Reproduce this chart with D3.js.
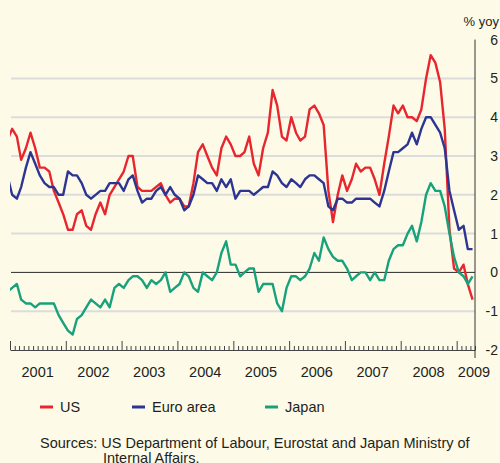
<!DOCTYPE html>
<html>
<head>
<meta charset="utf-8">
<script src="https://cdn.jsdelivr.net/npm/d3@7"></script>
<style>
  body { margin: 0; background: #fdfae8; }
  svg { display: block; font-family: "Liberation Sans", Arial, sans-serif; }
</style>
</head>
<body>
<div class="canvas"></div>
<script>
/* ----------- DATA ----------- */
// monthly, Dec 2000 .. Apr 2009 (first point is clipped by the plot edge)
const firstMonth = new Date(2000, 11, 15);
const seriesNames = ['US', 'Euro area', 'Japan'];
const seriesColors = ['#e8262d', '#2d3592', '#17a27c'];

const us = [3.4,
  3.7, 3.5, 2.9, 3.2, 3.6, 3.2, 2.7, 2.7, 2.6, 2.1, 1.8, 1.5,
  1.1, 1.1, 1.5, 1.6, 1.2, 1.1, 1.5, 1.8, 1.5, 2.0, 2.2, 2.4,
  2.6, 3.0, 3.0, 2.2, 2.1, 2.1, 2.1, 2.2, 2.3, 2.0, 1.8, 1.9,
  1.9, 1.7, 1.7, 2.3, 3.1, 3.3, 3.0, 2.7, 2.5, 3.2, 3.5, 3.3,
  3.0, 3.0, 3.1, 3.5, 2.8, 2.5, 3.2, 3.6, 4.7, 4.3, 3.5, 3.4,
  4.0, 3.6, 3.4, 3.5, 4.2, 4.3, 4.1, 3.8, 2.1, 1.3, 2.0, 2.5,
  2.1, 2.4, 2.8, 2.6, 2.7, 2.7, 2.4, 2.0, 2.8, 3.5, 4.3, 4.1,
  4.3, 4.0, 4.0, 3.9, 4.2, 5.0, 5.6, 5.4, 4.9, 3.7, 1.1, 0.1,
  0.0, 0.2, -0.3, -0.7];

const euro = [2.5,
  2.0, 1.9, 2.2, 2.7, 3.1, 2.8, 2.5, 2.3, 2.2, 2.2, 2.0, 2.0,
  2.6, 2.5, 2.5, 2.3, 2.0, 1.9, 2.0, 2.1, 2.1, 2.3, 2.3, 2.3,
  2.1, 2.4, 2.5, 2.1, 1.8, 1.9, 1.9, 2.1, 2.2, 2.0, 2.2, 2.0,
  1.9, 1.6, 1.7, 2.0, 2.5, 2.4, 2.3, 2.3, 2.1, 2.4, 2.2, 2.4,
  1.9, 2.1, 2.1, 2.1, 2.0, 2.1, 2.2, 2.2, 2.6, 2.5, 2.3, 2.2,
  2.4, 2.3, 2.2, 2.4, 2.5, 2.5, 2.4, 2.3, 1.7, 1.6, 1.9, 1.9,
  1.8, 1.8, 1.9, 1.9, 1.9, 1.9, 1.8, 1.7, 2.1, 2.6, 3.1, 3.1,
  3.2, 3.3, 3.6, 3.3, 3.7, 4.0, 4.0, 3.8, 3.6, 3.2, 2.1, 1.6,
  1.1, 1.2, 0.6, 0.6];

const japan = [-0.5,
  -0.4, -0.3, -0.7, -0.8, -0.8, -0.9, -0.8, -0.8, -0.8, -0.8, -1.1, -1.3,
  -1.5, -1.6, -1.2, -1.1, -0.9, -0.7, -0.8, -0.9, -0.7, -0.9, -0.4, -0.3,
  -0.4, -0.2, -0.1, -0.1, -0.2, -0.4, -0.2, -0.3, -0.2, 0.0, -0.5, -0.4,
  -0.3, 0.0, -0.1, -0.4, -0.5, 0.0, -0.1, -0.2, 0.0, 0.5, 0.8, 0.2,
  0.2, -0.1, 0.0, 0.1, 0.1, -0.5, -0.3, -0.3, -0.3, -0.8, -1.0, -0.4,
  -0.1, -0.1, -0.2, -0.1, 0.1, 0.5, 0.3, 0.9, 0.6, 0.4, 0.3, 0.3,
  0.1, -0.2, -0.1, 0.0, 0.0, -0.2, 0.0, -0.2, -0.2, 0.3, 0.6, 0.7,
  0.7, 1.0, 1.2, 0.8, 1.3, 2.0, 2.3, 2.1, 2.1, 1.7, 1.0, 0.4,
  0.0, -0.1, -0.3, -0.1];

const yearLabels = ['2001', '2002', '2003', '2004', '2005', '2006', '2007', '2008', '2009'];
const yTicks = [-2, -1, 0, 1, 2, 3, 4, 5, 6];

/* ----------- CONTAINER ----------- */
const svg = d3.select('.canvas')
    .append('svg')
    .attr('width', 500)
    .attr('height', 463);

const plotLeft = 10, plotRight = 475, plotTop = 39.6, plotBottom = 350;

/* ----------- SCALES ----------- */
const x = d3.scaleTime()
    .domain([new Date(2001, 0, 1), new Date(2009, 4, 1)])
    .range([plotLeft, plotRight]);

const y = d3.scaleLinear()
    .domain([-2, 6])
    .range([plotBottom, plotTop]);

const textColor = '#231f20';

// gridlines
svg.append('g')
    .selectAll('line')
    .data(yTicks.filter(d => d > -2 && d < 6 && d !== 0))
    .enter().append('line')
    .attr('x1', plotLeft + 1).attr('x2', plotRight)
    .attr('y1', d => y(d)).attr('y2', d => y(d))
    .attr('stroke', '#dcdcdc')
    .attr('stroke-width', 2);

// zero line
svg.append('line')
    .attr('x1', plotLeft + 1).attr('x2', plotRight)
    .attr('y1', y(0)).attr('y2', y(0))
    .attr('stroke', '#2a2a2a')
    .attr('stroke-width', 1);

/* ----------- LINES ----------- */
svg.append('clipPath').attr('id', 'plot')
    .append('rect')
    .attr('x', plotLeft).attr('y', 0)
    .attr('width', plotRight - plotLeft).attr('height', plotBottom);

const months = us.map((d, i) => d3.timeMonth.offset(firstMonth, i));

const line = d3.line()
    .x((d, i) => x(months[i]))
    .y(d => y(d));

[us, euro, japan].forEach((vals, k) => {
    svg.append('path')
        .datum(vals)
        .attr('clip-path', 'url(#plot)')
        .attr('fill', 'none')
        .attr('stroke', seriesColors[k])
        .attr('stroke-width', 2.4)
        .attr('stroke-linejoin', 'round')
        .attr('d', line);
});

/* ----------- AXES ----------- */
// month ticks, pointing up from the baseline
const xAxisGroup = svg.append('g')
    .attr('transform', `translate(0,${plotBottom})`);
xAxisGroup.call(d3.axisTop(x)
    .ticks(d3.timeMonth.every(1))
    .tickSize(4)
    .tickSizeOuter(0)
    .tickFormat(''));
xAxisGroup.selectAll('.tick line')
    .attr('y2', d => d.getMonth() === 0 ? -9 : -4);
xAxisGroup.selectAll('line, path')
    .attr('stroke', '#444')
    .attr('stroke-width', 1);

// year labels, centred in each year
svg.append('g')
    .selectAll('text')
    .data(yearLabels)
    .enter().append('text')
    .attr('x', d => Math.min(x(new Date(+d, 6, 1)), 474))
    .attr('y', 377)
    .attr('text-anchor', 'middle')
    .attr('font-size', 14.5)
    .attr('fill', textColor)
    .text(d => d);

// right axis
const yAxisGroup = svg.append('g')
    .attr('transform', `translate(${plotRight},0)`);
yAxisGroup.call(d3.axisRight(y)
    .tickValues(yTicks)
    .tickSize(0)
    .tickSizeOuter(0)
    .tickFormat(d => d < 0 ? '-' + Math.abs(d) : d));
yAxisGroup.select('.domain')
    .attr('stroke', '#333')
    .attr('d', `M0,${plotTop}V${plotBottom + 8}`);
yAxisGroup.selectAll('text')
    .attr('x', 23)
    .attr('text-anchor', 'end')
    .attr('font-size', 14)
    .attr('font-family', '"Liberation Sans", Arial, sans-serif')
    .attr('fill', textColor);

svg.append('text')
    .attr('x', 499).attr('y', 26)
    .attr('text-anchor', 'end')
    .attr('font-size', 13)
    .attr('fill', textColor)
    .text('% yoy');

/* ----------- LEGEND ----------- */
const legendX = [40, 132, 265];
const legend = svg.append('g')
    .selectAll('g')
    .data(seriesNames)
    .enter().append('g')
    .attr('transform', (d, i) => `translate(${legendX[i]},407)`);
legend.append('line')
    .attr('x1', 0).attr('x2', 13)
    .attr('stroke', (d, i) => seriesColors[i])
    .attr('stroke-width', 3);
legend.append('text')
    .attr('x', 20).attr('y', 5)
    .attr('font-size', 14.5)
    .attr('fill', textColor)
    .text(d => d);

/* ----------- SOURCES ----------- */
svg.append('text')
    .attr('x', 40).attr('y', 448)
    .attr('font-size', 14.5)
    .attr('fill', textColor)
    .text('Sources: US Department of Labour, Eurostat and Japan Ministry of');
svg.append('text')
    .attr('x', 103).attr('y', 463)
    .attr('font-size', 14.5)
    .attr('fill', textColor)
    .text('Internal Affairs.');
</script>
</body>
</html>
